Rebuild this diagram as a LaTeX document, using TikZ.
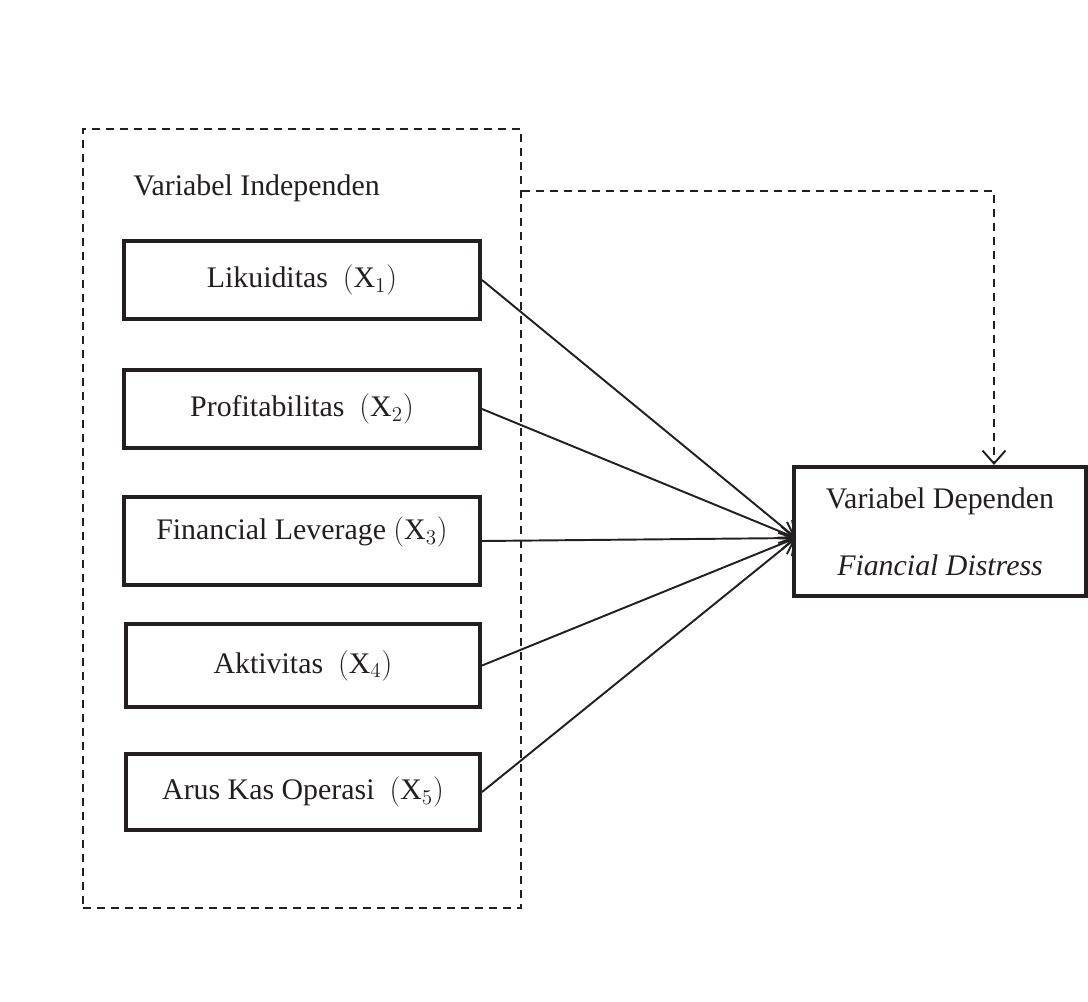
\documentclass[tikz,border=0pt]{standalone}
\usepackage{fontspec}
\setmainfont{Liberation Serif}
\usepackage{tikz}
\usetikzlibrary{arrows.meta,positioning,calc}
\definecolor{ink}{HTML}{231F20}

\begin{document}
\begin{tikzpicture}[
  x=0.2mm,y=-0.2mm,
  font=\fontsize{17}{20}\selectfont,
  varbox/.style={draw=ink,line width=2.3pt,minimum width=356*0.2mm,
                 minimum height=78*0.2mm,inner sep=0pt,align=center,text=ink},
  dashline/.style={draw=ink,line width=0.9pt,dash pattern=on 1.6mm off 1.2mm},
  arr/.style={-{Straight Barb[length=2.6mm,width=4.6mm]},line width=1.1pt,draw=ink}
]
\useasboundingbox (0,0) rectangle (1088,1001);
% group of independent variables
\node[dashline,minimum width=438*0.2mm,minimum height=779*0.2mm,inner sep=0pt]
  (indep) at (302,518.5) {};
\node[anchor=west,text=ink,inner sep=0pt] (ttl) at (133,188) {Variabel Independen};
\node[varbox] (x1) at (302,280) {Likuiditas~~$(\mathrm{X}_1)$};
\node[varbox] (x2) at (302,409) {Profitabilitas~~$(\mathrm{X}_2)$};
\node[varbox,minimum height=88*0.2mm,
  label={[yshift=1.8mm,text=ink]center:Financial Leverage $(\mathrm{X}_3)$}]
  (x3) at (302,541) {};
\node[varbox,minimum width=354*0.2mm,minimum height=83*0.2mm]
  (x4) at (303,665.5) {Aktivitas~~$(\mathrm{X}_4)$};
\node[varbox,minimum width=354*0.2mm,minimum height=76*0.2mm]
  (x5) at (303,792) {Arus Kas Operasi~~$(\mathrm{X}_5)$};
% dependent variable
\node[varbox,minimum width=292*0.2mm,minimum height=129*0.2mm]
  (dep) at (940,531.5) {Variabel Dependen\\[18pt]\textit{Fiancial Distress}};
\coordinate (tip) at (796,538);
\coordinate (bend) at (994,191);
\draw[arr] (x1.east) -- (tip);
\draw[arr] (x2.east) -- (tip);
\draw[arr] (x3.east) -- (tip);
\draw[arr] (x4.east) -- (tip);
\draw[arr] (x5.east) -- (tip);
\draw[dashline,arr] (indep.east |- bend) -- (bend) -- (bend |- dep.north);
\end{tikzpicture}
\end{document}
